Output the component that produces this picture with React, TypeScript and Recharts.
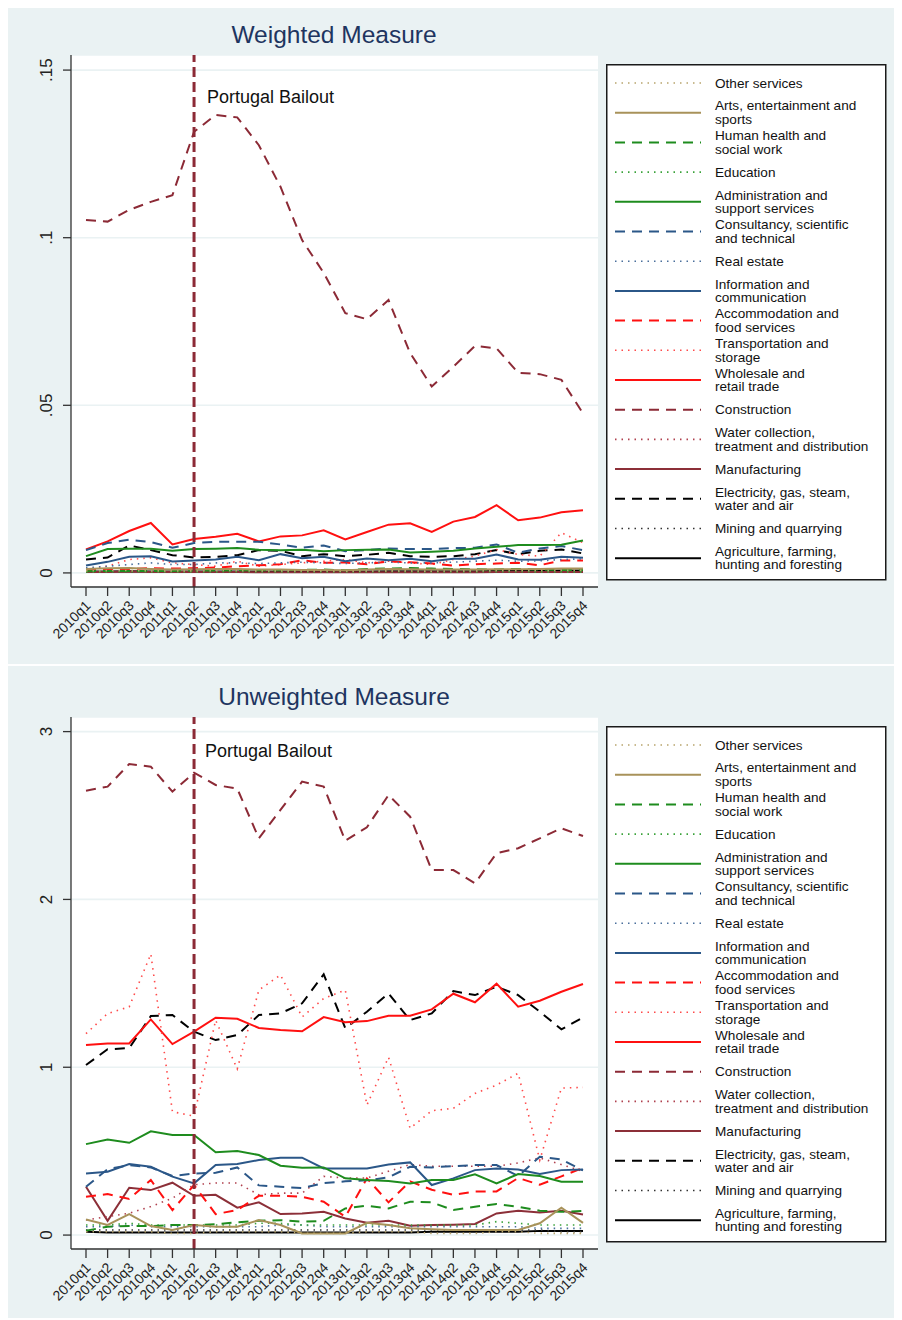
import React from 'react';
import { LineChart, Line, XAxis, YAxis, CartesianGrid, ReferenceLine, Legend } from 'recharts';

// ---------- categories ----------
const quarters = [
  '2010q1', '2010q2', '2010q3', '2010q4', '2011q1', '2011q2', '2011q3', '2011q4',
  '2012q1', '2012q2', '2012q3', '2012q4', '2013q1', '2013q2', '2013q3', '2013q4',
  '2014q1', '2014q2', '2014q3', '2014q4', '2015q1', '2015q2', '2015q3', '2015q4',
];
const bailoutQuarter = '2011q2';
const bailoutText = 'Portugal Bailout';

// ---------- weighted measure ----------
const wOther = [0.0006, 0.0007, 0.0007, 0.0006, 0.0006, 0.0006, 0.0007, 0.0007, 0.0006, 0.0006, 0.0006, 0.0006, 0.0005, 0.0006, 0.0006, 0.0006, 0.0005, 0.0006, 0.0006, 0.0007, 0.0007, 0.0007, 0.0008, 0.0008];
const wArts = [0.0012, 0.0014, 0.0015, 0.0012, 0.0010, 0.0011, 0.0012, 0.0012, 0.0010, 0.0010, 0.0009, 0.0009, 0.0008, 0.0010, 0.0012, 0.0011, 0.0010, 0.0010, 0.0010, 0.0011, 0.0011, 0.0012, 0.0013, 0.0013];
const wHealth = [0.0005, 0.0006, 0.0006, 0.0006, 0.0006, 0.0007, 0.0007, 0.0008, 0.0008, 0.0008, 0.0009, 0.0010, 0.0008, 0.0012, 0.0013, 0.0015, 0.0013, 0.0012, 0.0011, 0.0010, 0.0012, 0.0010, 0.0009, 0.0009];
const wEducation = [0.0003, 0.0003, 0.0004, 0.0003, 0.0003, 0.0003, 0.0003, 0.0004, 0.0003, 0.0003, 0.0003, 0.0003, 0.0003, 0.0003, 0.0004, 0.0003, 0.0003, 0.0003, 0.0003, 0.0004, 0.0004, 0.0003, 0.0003, 0.0003];
const wAdmin = [0.0050, 0.0071, 0.0072, 0.0072, 0.0066, 0.0071, 0.0072, 0.0074, 0.0069, 0.0068, 0.0069, 0.0065, 0.0068, 0.0069, 0.0070, 0.0061, 0.0063, 0.0066, 0.0073, 0.0078, 0.0083, 0.0083, 0.0084, 0.0097];
const wConsult = [0.0068, 0.0089, 0.0099, 0.0092, 0.0075, 0.0089, 0.0093, 0.0093, 0.0093, 0.0085, 0.0075, 0.0082, 0.0065, 0.0068, 0.0073, 0.0071, 0.0071, 0.0074, 0.0075, 0.0085, 0.0060, 0.0073, 0.0080, 0.0068];
const wRealEstate = [0.0015, 0.0020, 0.0025, 0.0030, 0.0025, 0.0025, 0.0030, 0.0030, 0.0028, 0.0030, 0.0032, 0.0030, 0.0028, 0.0030, 0.0032, 0.0030, 0.0030, 0.0032, 0.0035, 0.0038, 0.0035, 0.0036, 0.0040, 0.0042];
const wInfo = [0.0022, 0.0033, 0.0048, 0.0050, 0.0034, 0.0037, 0.0040, 0.0048, 0.0038, 0.0056, 0.0044, 0.0048, 0.0035, 0.0043, 0.0038, 0.0042, 0.0035, 0.0042, 0.0042, 0.0055, 0.0040, 0.0039, 0.0048, 0.0045];
const wAccom = [0.0008, 0.0010, 0.0012, 0.0014, 0.0013, 0.0014, 0.0016, 0.0020, 0.0023, 0.0026, 0.0038, 0.0030, 0.0031, 0.0026, 0.0034, 0.0032, 0.0028, 0.0022, 0.0026, 0.0028, 0.0030, 0.0023, 0.0037, 0.0037];
const wTransport = [0.0012, 0.0020, 0.0040, 0.0045, 0.0030, 0.0025, 0.0020, 0.0035, 0.0020, 0.0025, 0.0030, 0.0035, 0.0040, 0.0030, 0.0035, 0.0030, 0.0025, 0.0040, 0.0050, 0.0070, 0.0055, 0.0050, 0.0120, 0.0090];
const wWholesale = [0.0070, 0.0094, 0.0125, 0.0149, 0.0085, 0.0101, 0.0108, 0.0117, 0.0094, 0.0109, 0.0112, 0.0127, 0.0100, 0.0122, 0.0144, 0.0148, 0.0122, 0.0153, 0.0167, 0.0202, 0.0157, 0.0165, 0.0181, 0.0187];
const wConstruction = [0.1053, 0.1048, 0.1083, 0.1107, 0.1127, 0.1316, 0.1366, 0.1359, 0.1276, 0.1152, 0.0993, 0.0895, 0.0775, 0.0757, 0.0814, 0.0656, 0.0556, 0.0615, 0.0677, 0.0670, 0.0597, 0.0593, 0.0576, 0.0476];
const wWater = [0.0004, 0.0005, 0.0005, 0.0004, 0.0004, 0.0004, 0.0005, 0.0005, 0.0004, 0.0004, 0.0004, 0.0005, 0.0004, 0.0004, 0.0005, 0.0005, 0.0004, 0.0004, 0.0004, 0.0005, 0.0005, 0.0005, 0.0005, 0.0004];
const wManuf = [0.0003, 0.0003, 0.0004, 0.0003, 0.0003, 0.0003, 0.0003, 0.0003, 0.0002, 0.0002, 0.0002, 0.0002, 0.0002, 0.0002, 0.0002, 0.0002, 0.0002, 0.0002, 0.0002, 0.0003, 0.0003, 0.0003, 0.0003, 0.0003];
const wElec = [0.0040, 0.0046, 0.0082, 0.0068, 0.0053, 0.0046, 0.0048, 0.0053, 0.0068, 0.0066, 0.0050, 0.0056, 0.0050, 0.0054, 0.0060, 0.0050, 0.0048, 0.0050, 0.0056, 0.0068, 0.0056, 0.0066, 0.0070, 0.0058];
const wMining = [0.0002, 0.0002, 0.0002, 0.0002, 0.0002, 0.0002, 0.0002, 0.0002, 0.0002, 0.0002, 0.0002, 0.0002, 0.0002, 0.0002, 0.0002, 0.0002, 0.0002, 0.0002, 0.0002, 0.0002, 0.0002, 0.0002, 0.0002, 0.0002];
const wAgri = [0.0004, 0.0004, 0.0005, 0.0004, 0.0004, 0.0004, 0.0004, 0.0004, 0.0004, 0.0004, 0.0004, 0.0004, 0.0004, 0.0004, 0.0005, 0.0005, 0.0005, 0.0005, 0.0005, 0.0006, 0.0006, 0.0006, 0.0007, 0.0007];
const wTicks = [0, 0.05, 0.1, 0.15];
const wTickLabels = ['0', '.05', '.1', '.15'];

// ---------- unweighted measure ----------
const uOther = [0.02, 0.02, 0.02, 0.02, 0.01, 0.01, 0.02, 0.02, 0.02, 0.02, 0.01, 0.01, 0.01, 0.02, 0.02, 0.02, 0.01, 0.01, 0.01, 0.02, 0.02, 0.01, 0.01, 0.01];
const uArts = [0.093, 0.060, 0.125, 0.054, 0.030, 0.060, 0.050, 0.050, 0.089, 0.060, 0.010, 0.010, 0.010, 0.073, 0.060, 0.040, 0.034, 0.030, 0.030, 0.030, 0.030, 0.070, 0.163, 0.073];
const uHealth = [0.026, 0.050, 0.054, 0.054, 0.060, 0.060, 0.064, 0.076, 0.085, 0.089, 0.079, 0.085, 0.159, 0.175, 0.159, 0.199, 0.195, 0.149, 0.169, 0.185, 0.169, 0.145, 0.139, 0.143];
const uEducation = [0.06, 0.06, 0.07, 0.06, 0.06, 0.06, 0.06, 0.06, 0.07, 0.07, 0.06, 0.06, 0.06, 0.06, 0.06, 0.06, 0.06, 0.06, 0.06, 0.08, 0.07, 0.06, 0.06, 0.06];
const uAdmin = [0.542, 0.570, 0.550, 0.618, 0.596, 0.596, 0.493, 0.501, 0.477, 0.413, 0.401, 0.403, 0.338, 0.328, 0.322, 0.308, 0.328, 0.328, 0.362, 0.308, 0.364, 0.352, 0.318, 0.318];
const uConsult = [0.288, 0.393, 0.417, 0.403, 0.352, 0.367, 0.371, 0.403, 0.296, 0.288, 0.280, 0.310, 0.320, 0.326, 0.344, 0.407, 0.403, 0.411, 0.417, 0.417, 0.352, 0.467, 0.451, 0.385];
const uRealEstate = [0.05, 0.05, 0.06, 0.05, 0.05, 0.05, 0.05, 0.05, 0.05, 0.06, 0.06, 0.05, 0.05, 0.05, 0.05, 0.05, 0.05, 0.05, 0.05, 0.05, 0.05, 0.04, 0.04, 0.04];
const uInfo = [0.367, 0.377, 0.423, 0.407, 0.348, 0.308, 0.417, 0.423, 0.447, 0.461, 0.461, 0.397, 0.397, 0.397, 0.421, 0.433, 0.298, 0.338, 0.387, 0.397, 0.391, 0.364, 0.387, 0.391];
const uAccom = [0.228, 0.244, 0.215, 0.328, 0.149, 0.298, 0.125, 0.149, 0.234, 0.234, 0.228, 0.199, 0.109, 0.338, 0.195, 0.320, 0.270, 0.240, 0.260, 0.260, 0.340, 0.300, 0.350, 0.400];
const uTransport = [1.20, 1.32, 1.36, 1.675, 0.735, 0.709, 1.28, 0.99, 1.46, 1.55, 1.30, 1.41, 1.46, 0.775, 1.06, 0.636, 0.741, 0.755, 0.844, 0.894, 0.964, 0.447, 0.876, 0.88];
const uWholesale = [1.132, 1.142, 1.142, 1.285, 1.138, 1.212, 1.295, 1.289, 1.234, 1.222, 1.214, 1.299, 1.268, 1.275, 1.307, 1.307, 1.345, 1.438, 1.387, 1.498, 1.361, 1.396, 1.450, 1.496];
const uConstruction = [2.648, 2.672, 2.807, 2.791, 2.642, 2.755, 2.682, 2.660, 2.364, 2.533, 2.702, 2.672, 2.350, 2.430, 2.622, 2.493, 2.175, 2.175, 2.096, 2.275, 2.305, 2.364, 2.424, 2.378];
const uWater = [0.09, 0.11, 0.13, 0.17, 0.22, 0.30, 0.31, 0.31, 0.24, 0.25, 0.25, 0.35, 0.34, 0.34, 0.38, 0.42, 0.41, 0.41, 0.41, 0.41, 0.43, 0.46, 0.42, 0.38];
const uManuf = [0.288, 0.085, 0.282, 0.268, 0.312, 0.234, 0.240, 0.163, 0.195, 0.125, 0.129, 0.139, 0.099, 0.073, 0.085, 0.056, 0.060, 0.062, 0.066, 0.129, 0.145, 0.135, 0.145, 0.123];
const uElec = [1.013, 1.107, 1.114, 1.305, 1.311, 1.212, 1.162, 1.192, 1.311, 1.321, 1.381, 1.554, 1.232, 1.331, 1.440, 1.281, 1.321, 1.454, 1.430, 1.480, 1.430, 1.331, 1.226, 1.297];
const uMining = [0.03, 0.03, 0.03, 0.03, 0.03, 0.03, 0.03, 0.03, 0.03, 0.03, 0.03, 0.03, 0.03, 0.03, 0.03, 0.03, 0.03, 0.03, 0.03, 0.03, 0.03, 0.03, 0.02, 0.02];
const uAgri = [0.020, 0.015, 0.015, 0.015, 0.015, 0.015, 0.015, 0.015, 0.015, 0.015, 0.015, 0.015, 0.015, 0.015, 0.015, 0.015, 0.020, 0.020, 0.020, 0.020, 0.020, 0.025, 0.025, 0.025];
const uTicks = [0, 1, 2, 3];
const uTickLabels = ['0', '1', '2', '3'];

// ---------- series names (legend order) ----------
const seriesKeys = ['other', 'arts', 'health', 'education', 'admin', 'consult', 'realestate', 'info', 'accom', 'transport', 'wholesale', 'construction', 'water', 'manuf', 'elec', 'mining', 'agri'];
const seriesLabels = [
  ['Other services'],
  ['Arts, entertainment and', 'sports'],
  ['Human health and', 'social work'],
  ['Education'],
  ['Administration and', 'support services'],
  ['Consultancy, scientific', 'and technical'],
  ['Real estate'],
  ['Information and', 'communication'],
  ['Accommodation and', 'food services'],
  ['Transportation and', 'storage'],
  ['Wholesale and', 'retail trade'],
  ['Construction'],
  ['Water collection,', 'treatment and distribution'],
  ['Manufacturing'],
  ['Electricity, gas, steam,', 'water and air'],
  ['Mining and quarrying'],
  ['Agriculture, farming,', 'hunting and foresting'],
];
const weightedSeries = [wOther, wArts, wHealth, wEducation, wAdmin, wConsult, wRealEstate, wInfo, wAccom, wTransport, wWholesale, wConstruction, wWater, wManuf, wElec, wMining, wAgri];
const unweightedSeries = [uOther, uArts, uHealth, uEducation, uAdmin, uConsult, uRealEstate, uInfo, uAccom, uTransport, uWholesale, uConstruction, uWater, uManuf, uElec, uMining, uAgri];

// ---------- styles ----------
const DASH = '10 7';
const DOT = '1.5 5';
const styles: Record<string, { color: string; dash?: string; width: number }> = {
  other: { color: '#b8a46c', dash: DOT, width: 1.6 },
  arts: { color: '#a8925a', width: 2 },
  health: { color: '#1e8c1e', dash: DASH, width: 2 },
  education: { color: '#3aa23a', dash: DOT, width: 1.6 },
  admin: { color: '#1e8c1e', width: 2 },
  consult: { color: '#2b5788', dash: DASH, width: 2 },
  realestate: { color: '#4a6f9c', dash: DOT, width: 1.6 },
  info: { color: '#2b5788', width: 2 },
  accom: { color: '#ff1010', dash: DASH, width: 2 },
  transport: { color: '#ff4a4a', dash: DOT, width: 1.6 },
  wholesale: { color: '#ff1010', width: 2 },
  construction: { color: '#8c2a36', dash: DASH, width: 2 },
  water: { color: '#b0404e', dash: DOT, width: 1.6 },
  manuf: { color: '#8c2f38', width: 2 },
  elec: { color: '#000000', dash: DASH, width: 2 },
  mining: { color: '#333333', dash: DOT, width: 1.6 },
  agri: { color: '#000000', width: 2 },
};

const FONT = '"Liberation Sans", Arial, Helvetica, sans-serif';
const BG = '#eaf2f3';
const CHART_W = 894;
const CHART_H = 664;

const buildRows = (cols: number[][]) =>
  quarters.map((q, i) => {
    const row: Record<string, number | string> = { q };
    seriesKeys.forEach((k, j) => {
      row[k] = cols[j][i];
    });
    return row;
  });

const weightedRows = buildRows(weightedSeries);
const unweightedRows = buildRows(unweightedSeries);

const XTick = (props: any) => {
  const { x, y, payload } = props;
  const ax = x + 2;
  const ay = y + 7;
  return (
    <text
      x={ax}
      y={ay}
      dy="0.35em"
      transform={`rotate(-45 ${ax} ${ay})`}
      textAnchor="end"
      fontSize={14}
      fontFamily={FONT}
      fill="#222"
    >
      {payload.value}
    </text>
  );
};

const makeYTick = (ticks: number[], labels: string[]) => (props: any) => {
  const { x, y, payload } = props;
  const idx = ticks.indexOf(payload.value);
  const lx = x - 11;
  return (
    <text
      x={lx}
      y={y}
      transform={`rotate(-90 ${lx} ${y})`}
      textAnchor="middle"
      fontSize={17}
      fontFamily={FONT}
      fill="#222"
    >
      {idx >= 0 ? labels[idx] : payload.value}
    </text>
  );
};

const BailoutLabel = (props: any) => {
  const { viewBox, dx, dy } = props;
  if (!viewBox) return null;
  return (
    <text x={viewBox.x + dx} y={viewBox.y + dy} fontSize={18} fontFamily={FONT} fill="#111">
      {bailoutText}
    </text>
  );
};

const LegendBox = () => {
  const boxW = 279;
  const boxH = 515;
  return (
    <svg width={boxW + 2} height={boxH + 2} style={{ display: 'block', overflow: 'visible' }}>
      <rect x={0.75} y={0.75} width={boxW} height={boxH} fill="#ffffff" stroke="#1a1a1a" strokeWidth={1.5} />
      {seriesKeys.map((k, i) => {
        const st = styles[k];
        const cy = 19 + i * 29.7;
        const lines = seriesLabels[i];
        return (
          <g key={k}>
            <line x1={9} x2={95} y1={cy} y2={cy} stroke={st.color} strokeWidth={st.width} strokeDasharray={st.dash} />
            <text fontSize={13.6} fontFamily={FONT} fill="#111">
              {lines.length === 1 ? (
                <tspan x={109} y={cy} dy="0.35em">{lines[0]}</tspan>
              ) : (
                <>
                  <tspan x={109} y={cy - 7} dy="0.35em">{lines[0]}</tspan>
                  <tspan x={109} y={cy + 6.5} dy="0.35em">{lines[1]}</tspan>
                </>
              )}
            </text>
          </g>
        );
      })}
    </svg>
  );
};

type PanelProps = {
  rows: Record<string, number | string>[];
  domain: [number, number];
  ticks: number[];
  tickLabels: string[];
  labelDx: number;
  labelDy: number;
};

const Panel = ({ rows, domain, ticks, tickLabels, labelDx, labelDy }: PanelProps) => {
  const drawOrder = [...seriesKeys].reverse();
  return (
    <LineChart
      width={CHART_W}
      height={CHART_H}
      data={rows}
      margin={{ top: 55, right: 304, bottom: 17, left: 0 }}
    >
      <CartesianGrid vertical={false} fill="#ffffff" fillOpacity={1} stroke={BG} strokeWidth={1.6} />
      <XAxis
        dataKey="q"
        height={60}
        interval={0}
        padding={{ left: 15, right: 15 }}
        tickSize={9}
        tickMargin={0}
        axisLine={{ stroke: '#333', strokeWidth: 1.3 }}
        tickLine={{ stroke: '#333', strokeWidth: 1.3 }}
        tick={<XTick />}
      />
      <YAxis
        type="number"
        domain={domain}
        ticks={ticks}
        allowDataOverflow
        width={63}
        tickSize={8}
        tickMargin={0}
        interval={0}
        axisLine={{ stroke: '#333', strokeWidth: 1.3 }}
        tickLine={{ stroke: '#333', strokeWidth: 1.3 }}
        tick={makeYTick(ticks, tickLabels)}
      />
      {drawOrder.map((k) => {
        const st = styles[k];
        const idx = seriesKeys.indexOf(k);
        return (
          <Line
            key={k}
            dataKey={k}
            name={seriesLabels[idx].join(' ')}
            type="linear"
            stroke={st.color}
            strokeWidth={st.width}
            strokeDasharray={st.dash}
            dot={false}
            activeDot={false}
            isAnimationActive={false}
          />
        );
      })}
      <ReferenceLine
        x={bailoutQuarter}
        stroke="#8c2a36"
        strokeWidth={3}
        strokeDasharray="10 5"
        label={<BailoutLabel dx={labelDx} dy={labelDy} />}
      />
      <Legend
        layout="vertical"
        align="center"
        verticalAlign="middle"
        content={<LegendBox />}
        wrapperStyle={{ position: 'absolute', left: 598, top: 64, width: 281, height: 517 }}
      />
    </LineChart>
  );
};

const Title = ({ text, top }: { text: string; top: number }) => (
  <svg width={CHART_W} height={52} style={{ position: 'absolute', left: 8, top }}>
    <text x={334 - 8} y={39} textAnchor="middle" fontSize={24.5} fontFamily={FONT} fill="#1e3560">
      {text}
    </text>
  </svg>
);

export default function App() {
  return (
    <div style={{ position: 'relative', width: 902, height: 1320, margin: '-8px 0 0 -8px', background: '#ffffff', overflow: 'hidden' }}>
      <svg width={902} height={8} style={{ position: 'absolute', left: 0, top: 0 }}>
        <text x={450} y={3} textAnchor="middle" fontSize={34} fontFamily='"Liberation Serif", "DejaVu Serif", serif' fill="#222">
          Panel C: Sector
        </text>
      </svg>
      <div style={{ position: 'absolute', left: 8, top: 4, width: 894, height: 660, background: BG }} />
      <div style={{ position: 'absolute', left: 8, top: 666, width: 894, height: 652, background: BG }} />
      <Title text="Weighted Measure" top={4} />
      <Title text="Unweighted Measure" top={666} />
      <div style={{ position: 'absolute', left: 8, top: 0 }}>
        <Panel rows={weightedRows} domain={[-0.0042, 0.1545]} ticks={wTicks} tickLabels={wTickLabels} labelDx={13} labelDy={48} />
      </div>
      <div style={{ position: 'absolute', left: 8, top: 662 }}>
        <Panel rows={unweightedRows} domain={[-0.083, 3.087]} ticks={uTicks} tickLabels={uTickLabels} labelDx={11} labelDy={40} />
      </div>
    </div>
  );
}
